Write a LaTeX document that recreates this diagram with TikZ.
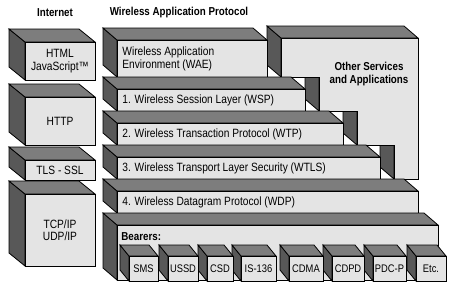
\documentclass[tikz,border=0pt]{standalone}
\usepackage{fontspec}
\setmainfont{Liberation Sans}[FakeStretch=0.85]
\usetikzlibrary{positioning}
\definecolor{cFront}{RGB}{228,228,228}
\definecolor{cTop}{RGB}{125,125,125}
\definecolor{cSide}{RGB}{88,88,88}
\newcommand{\dpx}{-14}
\newcommand{\dpy}{-12}
% box: left face, top face, front face as node
\newcommand{\stackbox}[6]{%
  \filldraw[sideface] (#2,#3) -- ++(\dpx,\dpy) -- ++(0,#5-#3) -- (#2,#5) -- cycle;
  \filldraw[topface] (#2,#3) -- ++(\dpx,\dpy) -- ++(#4-#2,0) -- (#4,#3) -- cycle;
  \node[frontface,minimum width={(#4-#2)*1pt},minimum height={(#5-#3)*1pt}] (#1) at (#2,#3) {#6};}

\begin{document}
\begin{tikzpicture}[x=1pt,y=-1pt,line width=0.8pt,
    frontface/.style={draw,fill=cFront,anchor=north west,inner sep=0pt,outer sep=0pt,align=center,font=\fontsize{12}{12.5}\selectfont},
    topface/.style={fill=cTop},
    sideface/.style={fill=cSide},
    lbl/.style={anchor=west,inner sep=0pt,align=left,font=\fontsize{12}{13}\selectfont},
    ttl/.style={font=\bfseries\fontsize{11.5}{13}\selectfont,align=center}
  ]
  \useasboundingbox (0,0) rectangle (455,284);
  \node[ttl] (inet) at (55,13) {Internet};
  \node[ttl] (wap) at (179,13) {Wireless Application Protocol};

  % internet stack
  \renewcommand{\dpx}{-16}\renewcommand{\dpy}{-13}
  \stackbox{html}{25}{42}{95}{80}{HTML\\JavaScript™}
  \stackbox{http}{25}{97}{95}{145}{HTTP}
  \stackbox{tls}{25}{160}{95}{180}{TLS - SSL}
  \stackbox{tcp}{25}{194}{95}{266}{TCP/IP\\UDP/IP}

  % other services, stepped block
  \renewcommand{\dpx}{-14}\renewcommand{\dpy}{-12}
  \foreach \xa/\ya/\yb in {394/145/179,357/111/145,319/77/111,281/38/77}
    \filldraw[sideface] (\xa,\ya) -- ++(\dpx,\dpy) -- ++(0,\yb-\ya) -- (\xa,\yb) -- cycle;
  \filldraw[fill=cFront] (281,38) -- (418,38) -- (418,179) -- (394,179) -- (394,145) -- (357,145)
    -- (357,111) -- (319,111) -- (319,77) -- (281,77) -- cycle;
  \filldraw[topface] (281,38) -- ++(\dpx,\dpy) -- (404,26) -- (418,38) -- cycle;
  \node[ttl] (other) at (369,74) {Other Services\\and Applications};

  % wap layers
  \stackbox{wae}{117}{40}{267}{77}{}
  \node[lbl] (waetxt) at ([xshift=5pt]wae.west) {Wireless Application\\Environment (WAE)};
  \stackbox{wsp}{117}{89}{305}{111}{}
  \node[lbl] (wsptxt) at ([xshift=5pt]wsp.west) {1. Wireless Session Layer (WSP)};
  \stackbox{wtp}{117}{123}{343}{145}{}
  \node[lbl] (wtptxt) at ([xshift=5pt]wtp.west) {2. Wireless Transaction Protocol (WTP)};
  \stackbox{wtls}{117}{157}{380}{179}{}
  \node[lbl] (wtlstxt) at ([xshift=5pt]wtls.west) {3. Wireless Transport Layer Security (WTLS)};
  \stackbox{wdp}{117}{191}{418}{213}{}
  \node[lbl] (wdptxt) at ([xshift=5pt]wdp.west) {4. Wireless Datagram Protocol (WDP)};
  \stackbox{bearers}{117}{225}{438}{280}{}
  \node[lbl,font=\bfseries\fontsize{11.5}{13}\selectfont] (bearerstxt) at (121,237) {Bearers:};

  % bearer boxes, right to left
  \renewcommand{\dpx}{-9}\renewcommand{\dpy}{-11}
  \foreach \nm/\xa/\xb/\txt in {etc/416/446/Etc.,pdcp/373/406/PDC-P,cdpd/332/364/CDPD,cdma/289/323/CDMA,
      istx/241/276/IS-136,csd/207/233/CSD,ussd/168/198/USSD,sms/129/158/SMS}
    {\stackbox{\nm}{\xa}{256}{\xb}{281}{\fontsize{11}{12}\selectfont\txt}}
\end{tikzpicture}
\end{document}
